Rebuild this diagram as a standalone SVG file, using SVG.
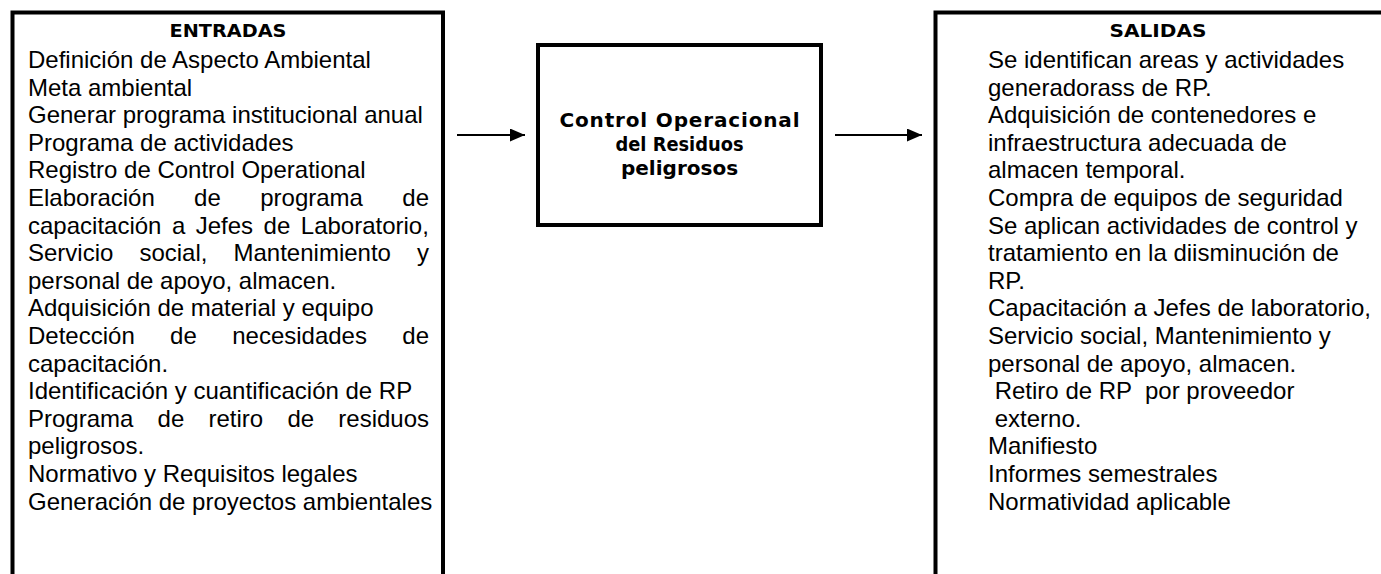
<svg xmlns="http://www.w3.org/2000/svg" width="1381" height="574" viewBox="0 0 1381 574">
  <style>
    .box { fill: #ffffff; stroke: #000000; stroke-width: 4; }
    .body { font-family: "Liberation Sans", Arial, sans-serif; font-size: 24px; fill: #000000; }
    .head { font-family: "DejaVu Sans", "Liberation Sans", sans-serif; font-weight: bold; font-size: 18px; fill: #000000; }
    .ctr { font-family: "DejaVu Sans", "Liberation Sans", sans-serif; font-weight: bold; font-size: 20px; fill: #000000; }
    .conn { stroke: #000000; stroke-width: 2; fill: none; }
  </style>
  <defs>
    <marker id="arrow" markerUnits="userSpaceOnUse" markerWidth="16" markerHeight="14" refX="15" refY="6.5" orient="auto">
      <path d="M0,0 L15,6.5 L0,13 z" fill="#000000"/>
    </marker>
  </defs>
  <rect x="0" y="0" width="1381" height="574" fill="#ffffff"/>

  <g id="entradas">
    <rect class="box" x="12.5" y="12.5" width="430.5" height="600"/>
    <text class="head" x="228" y="37" text-anchor="middle" textLength="117" lengthAdjust="spacingAndGlyphs">ENTRADAS</text>
    <text class="body" x="28" y="68">Definición de Aspecto Ambiental</text>
    <text class="body" x="28" y="95.6">Meta ambiental</text>
    <text class="body" x="28" y="123.2">Generar programa institucional anual</text>
    <text class="body" x="28" y="150.8">Programa de actividades</text>
    <text class="body" x="28" y="178.4">Registro de Control Operational</text>
    <text class="body" y="206"><tspan x="28">Elaboración</tspan><tspan x="194.1">de</tspan><tspan x="260.2">programa</tspan><tspan x="402.3">de</tspan></text>
    <text class="body" y="233.6"><tspan x="28">capacitación</tspan><tspan x="171.9">a</tspan><tspan x="195.7">Jefes</tspan><tspan x="263.6">de</tspan><tspan x="300.8">Laboratorio,</tspan></text>
    <text class="body" y="261.2"><tspan x="28">Servicio</tspan><tspan x="139.4">social,</tspan><tspan x="233.5">Mantenimiento</tspan><tspan x="417">y</tspan></text>
    <text class="body" x="28" y="288.8">personal de apoyo, almacen.</text>
    <text class="body" x="28" y="316.4">Adquisición de material y equipo</text>
    <text class="body" y="344"><tspan x="28">Detección</tspan><tspan x="170.1">de</tspan><tspan x="232.2">necesidades</tspan><tspan x="402.3">de</tspan></text>
    <text class="body" x="28" y="371.6">capacitación.</text>
    <text class="body" x="28" y="399.2">Identificación y cuantificación de RP</text>
    <text class="body" y="426.8"><tspan x="28">Programa</tspan><tspan x="157.6">de</tspan><tspan x="208.5">retiro</tspan><tspan x="287.4">de</tspan><tspan x="338.3">residuos</tspan></text>
    <text class="body" x="28" y="454.4">peligrosos.</text>
    <text class="body" x="28" y="482">Normativo y Requisitos legales</text>
    <text class="body" x="28" y="509.6">Generación de proyectos ambientales</text>
  </g>

  <g id="proceso">
    <rect class="box" x="538" y="45" width="283" height="180"/>
    <text class="ctr" x="679.5" y="127" text-anchor="middle" textLength="240" lengthAdjust="spacing">Control Operacional</text>
    <text class="ctr" x="679.5" y="151" text-anchor="middle" textLength="128" lengthAdjust="spacingAndGlyphs">del Residuos</text>
    <text class="ctr" x="679.5" y="174.5" text-anchor="middle">peligrosos</text>
  </g>

  <g id="salidas">
    <rect class="box" x="935.5" y="12.5" width="460" height="600"/>
    <text class="head" x="1158" y="37" text-anchor="middle" textLength="97" lengthAdjust="spacingAndGlyphs">SALIDAS</text>
    <text class="body" x="988" y="68">Se identifican areas y actividades</text>
    <text class="body" x="988" y="95.6">generadorass de RP.</text>
    <text class="body" x="988" y="123.2">Adquisición de contenedores e</text>
    <text class="body" x="988" y="150.8">infraestructura adecuada de</text>
    <text class="body" x="988" y="178.4">almacen temporal.</text>
    <text class="body" x="988" y="206">Compra de equipos de seguridad</text>
    <text class="body" x="988" y="233.6">Se aplican actividades de control y</text>
    <text class="body" x="988" y="261.2">tratamiento en la diisminución de</text>
    <text class="body" x="988" y="288.8">RP.</text>
    <text class="body" x="988" y="316.4">Capacitación a Jefes de laboratorio,</text>
    <text class="body" x="988" y="344">Servicio social, Mantenimiento y</text>
    <text class="body" x="988" y="371.6">personal de apoyo, almacen.</text>
    <text class="body" x="994.7" y="399.2" xml:space="preserve">Retiro de RP  por proveedor</text>
    <text class="body" x="994.7" y="426.8">externo.</text>
    <text class="body" x="988" y="454.4">Manifiesto</text>
    <text class="body" x="988" y="482">Informes semestrales</text>
    <text class="body" x="988" y="509.6">Normatividad aplicable</text>
  </g>

  <g id="connectors">
    <line class="conn" x1="457" y1="135" x2="525" y2="135" marker-end="url(#arrow)"/>
    <line class="conn" x1="835" y1="135" x2="922" y2="135" marker-end="url(#arrow)"/>
  </g>
</svg>
